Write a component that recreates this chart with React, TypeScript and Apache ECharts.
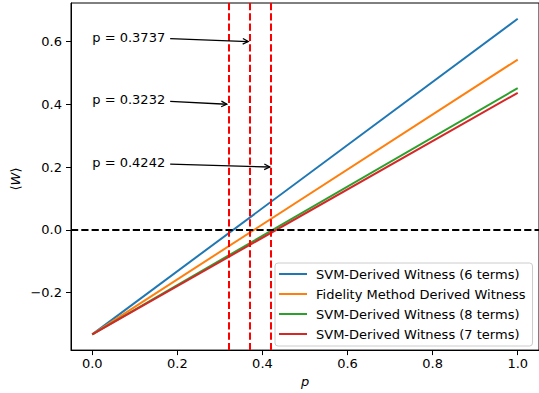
import React, { useEffect, useRef } from "react";
import * as echarts from "echarts";

// Mixing parameter p and the witness expectation value <W> at each end of the sweep
const pValues = [0, 1];
const svm6Terms = [-0.3333, 0.673];
const fidelityWitness = [-0.3333, 0.543];
const svm8Terms = [-0.3333, 0.452];
const svm7Terms = [-0.3333, 0.437];

const seriesNames = [
  "SVM-Derived Witness (6 terms)",
  "Fidelity Method Derived Witness",
  "SVM-Derived Witness (8 terms)",
  "SVM-Derived Witness (7 terms)",
];
const seriesValues = [svm6Terms, fidelityWitness, svm8Terms, svm7Terms];
const seriesColors = ["#1f77b4", "#ff7f0e", "#2ca02c", "#d62728"];

// Critical p thresholds, each annotated at its own <W> level
const thresholds = [0.3737, 0.3232, 0.4242];
const annotationLevels = [0.6, 0.4, 0.2];

const xTicks = [0, 0.2, 0.4, 0.6, 0.8, 1.0];
const yTicks = [-0.2, 0, 0.2, 0.4, 0.6];

const FONT = "DejaVu Sans";
const FONT_SIZE = 13;

function measure(text: string): number {
  const ctx = document.createElement("canvas").getContext("2d");
  if (!ctx) return text.length * 7.5;
  ctx.font = `${FONT_SIZE}px "${FONT}"`;
  return ctx.measureText(text).width;
}

export default function App() {
  const ref = useRef<HTMLDivElement>(null);

  useEffect(() => {
    if (!ref.current) return;
    const chart = echarts.init(ref.current, null, { renderer: "svg" });

    const dataMin = -0.3333;
    const dataMax = 0.673;
    const pad = (dataMax - dataMin) * 0.05;

    const lineSeries = seriesNames.map((name, i) => ({
      type: "line",
      name,
      data: pValues.map((p, j) => [p, seriesValues[i][j]]),
      symbol: "none",
      showSymbol: false,
      lineStyle: { width: 2, color: seriesColors[i] },
      itemStyle: { color: seriesColors[i] },
      z: 2,
    }));

    const dash = [7.2, 3.1];
    const refLines = {
      type: "line",
      name: "refs",
      data: [],
      z: 3,
      markLine: {
        silent: true,
        symbol: "none",
        label: { show: false },
        animation: false,
        data: [
          ...thresholds.map((t) => ({
            xAxis: t,
            lineStyle: { color: "#ff0000", width: 2, type: dash },
          })),
          { yAxis: 0, lineStyle: { color: "#000000", width: 2, type: dash } },
        ],
      },
    };

    chart.setOption({
      animation: false,
      grid: {
        left: 71,
        right: -2,
        top: 3,
        bottom: 40,
        show: true,
        borderColor: "#000",
        borderWidth: 1,
        backgroundColor: "transparent",
      },
      xAxis: {
        type: "value",
        min: -0.05,
        max: 1.05,
        name: "p",
        nameLocation: "middle",
        nameGap: 23,
        nameTextStyle: {
          fontFamily: FONT,
          fontSize: FONT_SIZE,
          fontStyle: "italic",
          color: "#000",
        },
        axisLine: { show: true, onZero: false, lineStyle: { color: "#000", width: 1 } },
        axisTick: {
          show: true,
          length: 5,
          lineStyle: { color: "#000", width: 1 },
          customValues: xTicks,
        },
        axisLabel: {
          customValues: xTicks,
          margin: 7,
          fontFamily: FONT,
          fontSize: FONT_SIZE,
          color: "#000",
          formatter: (v: number) => v.toFixed(1),
        },
        splitLine: { show: false },
      },
      yAxis: {
        type: "value",
        min: dataMin - pad,
        max: dataMax + pad,
        axisLine: { show: true, onZero: false, lineStyle: { color: "#000", width: 1 } },
        axisTick: {
          show: true,
          length: 5,
          lineStyle: { color: "#000", width: 1 },
          customValues: yTicks,
        },
        axisLabel: {
          customValues: yTicks,
          margin: 9,
          fontFamily: FONT,
          fontSize: FONT_SIZE,
          color: "#000",
          formatter: (v: number) => v.toFixed(1).replace("-", "\u2212"),
        },
        splitLine: { show: false },
      },
      legend: {
        data: seriesNames,
        orient: "vertical",
        left: 275,
        top: 263,
        padding: [4, 7, 5, 4],
        icon: "rect",
        itemWidth: 28,
        itemHeight: 2,
        itemGap: 6,
        backgroundColor: "rgba(255,255,255,0.8)",
        borderColor: "#cccccc",
        borderWidth: 1,
        borderRadius: 3,
        textStyle: {
          fontFamily: FONT,
          fontSize: FONT_SIZE,
          color: "#000",
          lineHeight: 14,
          padding: [0, 0, 0, 4],
        },
      },
      series: [...lineSeries, refLines],
    });

    // Annotation texts and arrows, placed through the grid's coordinate system
    const elements: any[] = [];
    thresholds.forEach((t, i) => {
      const level = annotationLevels[i];
      const label = `p = ${t.toFixed(4)}`;
      const [tx, ty] = chart.convertToPixel({ gridIndex: 0 }, [0, level]) as number[];
      const [px, py] = chart.convertToPixel({ gridIndex: 0 }, [t, level]) as number[];
      elements.push({
        type: "text",
        x: tx,
        y: ty - 4.5,
        z: 10,
        style: {
          text: label,
          fontFamily: FONT,
          fontSize: FONT_SIZE,
          fill: "#000",
          align: "left",
          verticalAlign: "middle",
        },
      });
      const sx = tx + measure(label) + 5;
      const sy = ty - 3;
      const dx = px - sx;
      const dy = py - sy;
      const len = Math.hypot(dx, dy);
      const ux = dx / len;
      const uy = dy / len;
      const ex = px - ux * 3;
      const ey = py - uy * 3;
      const hl = 5.5;
      const hw = 2.8;
      elements.push({
        type: "line",
        z: 10,
        shape: { x1: sx, y1: sy, x2: ex, y2: ey },
        style: { stroke: "#000", lineWidth: 1.3 },
      });
      elements.push({
        type: "polyline",
        z: 10,
        shape: {
          points: [
            [ex - ux * hl - uy * hw, ey - uy * hl + ux * hw],
            [ex, ey],
            [ex - ux * hl + uy * hw, ey - uy * hl - ux * hw],
          ],
        },
        style: { stroke: "#000", lineWidth: 1.3, fill: "none" },
      });
    });

    // Y-axis title <W>
    elements.push({
      type: "text",
      x: 15,
      y: 179,
      rotation: Math.PI / 2,
      z: 10,
      style: {
        text: "{a|\u27E8}{b|W}{a|\u27E9}",
        align: "center",
        verticalAlign: "middle",
        rich: {
          a: { fontFamily: FONT, fontSize: FONT_SIZE, fill: "#000" },
          b: { fontFamily: FONT, fontSize: FONT_SIZE, fontStyle: "italic", fill: "#000" },
        },
      },
    });

    chart.setOption({ graphic: { elements } });

    return () => chart.dispose();
  }, []);

  return (
    <div
      ref={ref}
      style={{ position: "fixed", left: 0, top: 0, width: 539, height: 393, background: "#fff" }}
    />
  );
}
